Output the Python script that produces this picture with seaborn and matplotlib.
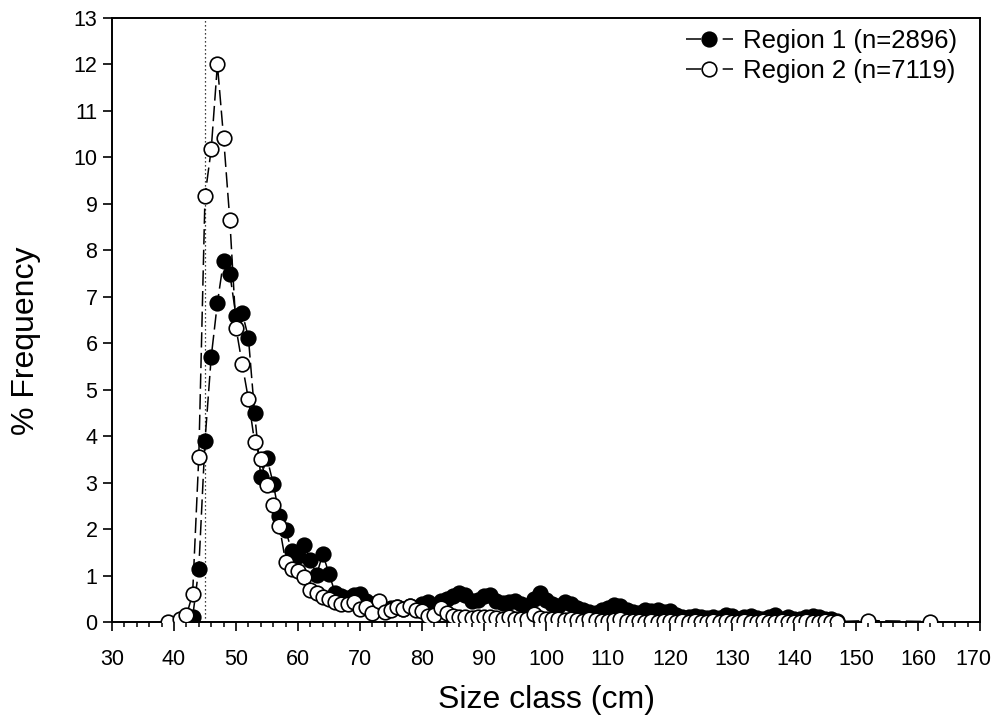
import matplotlib
matplotlib.use("Agg")
import matplotlib.pyplot as plt
import matplotlib.transforms as mtransforms
from matplotlib.lines import Line2D
from matplotlib.ticker import MultipleLocator
import seaborn as sns
import pandas as pd

# Size classes (cm) and % frequency, Region 1 (filled markers)
region1_size = list(range(43, 148))
region1_pct = [
    0.10, 1.15, 3.90, 5.70, 6.87, 7.78, 7.50, 6.58, 6.66, 6.12,   # 43-52
    4.50, 3.12, 3.53, 2.98, 2.29, 1.98, 1.52, 1.42, 1.66, 1.33,   # 53-62
    1.02, 1.46, 1.04, 0.62, 0.55, 0.52, 0.58, 0.60, 0.45, 0.38,   # 63-72
    0.28, 0.25, 0.30, 0.32, 0.28, 0.35, 0.30, 0.38, 0.42, 0.35,   # 73-82
    0.45, 0.50, 0.55, 0.62, 0.58, 0.45, 0.48, 0.55, 0.58, 0.45,   # 83-92
    0.40, 0.42, 0.45, 0.38, 0.35, 0.50, 0.62, 0.48, 0.38, 0.35,   # 93-102
    0.42, 0.38, 0.30, 0.25, 0.22, 0.20, 0.25, 0.30, 0.36, 0.35,   # 103-112
    0.25, 0.22, 0.20, 0.25, 0.24, 0.26, 0.22, 0.24, 0.15, 0.10,   # 113-122
    0.10, 0.12, 0.10, 0.08, 0.10, 0.08, 0.14, 0.12, 0.07, 0.10,   # 123-132
    0.12, 0.08, 0.07, 0.10, 0.14, 0.07, 0.10, 0.07, 0.07, 0.10,   # 133-142
    0.12, 0.10, 0.07, 0.07, 0.03,                                 # 143-147
]

# Size classes (cm) and % frequency, Region 2 (open markers)
region2_size = [39, 41, 42] + list(range(43, 148)) + [152, 162]
region2_pct = [
    0.01, 0.07, 0.14,                                             # 39-42
    0.60, 3.56, 9.17, 10.17, 12.00, 10.42, 8.66, 6.33, 5.55, 4.80,  # 43-52
    3.87, 3.50, 2.95, 2.52, 2.06, 1.30, 1.14, 1.10, 0.96, 0.68,   # 53-62
    0.62, 0.54, 0.50, 0.43, 0.38, 0.38, 0.42, 0.27, 0.33, 0.19,   # 63-72
    0.46, 0.21, 0.26, 0.32, 0.29, 0.35, 0.26, 0.24, 0.12, 0.15,   # 73-82
    0.30, 0.20, 0.12, 0.10, 0.10, 0.08, 0.10, 0.10, 0.10, 0.08,   # 83-92
    0.07, 0.10, 0.06, 0.07, 0.06, 0.17, 0.08, 0.06, 0.06, 0.07,   # 93-102
    0.04, 0.06, 0.04, 0.03, 0.06, 0.04, 0.03, 0.03, 0.04, 0.06,   # 103-112
    0.03, 0.03, 0.03, 0.01, 0.03, 0.01, 0.03, 0.03, 0.01, 0.03,   # 113-122
    0.01, 0.03, 0.01, 0.01, 0.03, 0.01, 0.03, 0.01, 0.01, 0.03,   # 123-132
    0.01, 0.01, 0.03, 0.01, 0.01, 0.03, 0.01, 0.01, 0.01, 0.03,   # 133-142
    0.01, 0.01, 0.03, 0.01, 0.01,                                 # 143-147
    0.03, 0.01,                                                   # 152, 162
]

region_labels = ["Region 1 (n=2896)", "Region 2 (n=7119)"]
legal_size = 45

df1 = pd.DataFrame({"size": region1_size, "pct": region1_pct})
df2 = pd.DataFrame({"size": region2_size, "pct": region2_pct})

sns.set_theme(style="ticks")
plt.rcParams["font.family"] = ["Liberation Sans", "DejaVu Sans"]
plt.rcParams.update({"text.color": "black", "axes.labelcolor": "black",
                     "xtick.color": "black", "ytick.color": "black"})

fig = plt.figure(figsize=(9.94, 7.2), dpi=100)
ax = fig.add_axes([112 / 994, 1 - 622 / 720, 868 / 994, 604 / 720])

dash = (0, (10, 3.5))
marker_style = dict(marker="o", markersize=10.5, markeredgecolor="black",
                    markeredgewidth=1.2)
common = dict(color="black", linewidth=1.1, linestyle=dash, sort=True,
              estimator=None, ax=ax, **marker_style)

sns.lineplot(data=df1, x="size", y="pct", markerfacecolor="black",
             zorder=3, **common)
sns.lineplot(data=df2, x="size", y="pct", markerfacecolor="white",
             zorder=4, **common)

ax.axvline(legal_size, color="black", linestyle=(0, (1, 2.2)), linewidth=0.9, zorder=2)

ax.set_xlim(30, 170)
ax.set_ylim(0, 13)
ax.xaxis.set_major_locator(MultipleLocator(10))
ax.xaxis.set_minor_locator(MultipleLocator(2))
ax.yaxis.set_major_locator(MultipleLocator(1))

for side in ["top", "right", "left", "bottom"]:
    ax.spines[side].set_visible(True)
    ax.spines[side].set_color("black")
    ax.spines[side].set_linewidth(1.4)

ax.tick_params(axis="both", which="major", direction="out", length=6.5,
               width=1.2, color="black", labelsize=15.5)
ax.tick_params(axis="x", which="major", pad=13)
ax.tick_params(axis="y", which="major", pad=4)
ax.tick_params(axis="x", which="minor", direction="out", length=3.5,
               width=1.1, color="black")
ax.grid(False)

ax.set_xlabel("Size class (cm)", fontsize=23, labelpad=11)
ax.set_ylabel("% Frequency", fontsize=23, labelpad=24)
ax.yaxis.set_label_coords(-0.082, 0.465)

# Legend keys: a dash on each side of the marker
legend_dash = (0, (10, 14))
handles = [
    Line2D([], [], color="black", linewidth=1.1, linestyle=legend_dash,
           markerfacecolor="black", **marker_style),
    Line2D([], [], color="black", linewidth=1.1, linestyle=legend_dash,
           markerfacecolor="white", **marker_style),
]
ax.legend(handles, region_labels, loc="upper right",
          bbox_to_anchor=(0.986, 0.998), frameon=False, fontsize=18.5,
          handlelength=1.85, handletextpad=0.4, labelspacing=0.22,
          borderaxespad=0.0)

# Nudge the last x tick label inward so it stays on the canvas
fig.canvas.draw()
last_tick = ax.xaxis.get_major_ticks()[-1]
for tick in ax.xaxis.get_major_ticks():
    if abs(tick.get_loc() - 170) < 1e-6:
        last_tick = tick
last_tick.label1.set_transform(
    last_tick.label1.get_transform()
    + mtransforms.ScaledTranslation(-7 / 100, 0, fig.dpi_scale_trans))

fig.savefig("out.png", dpi=100)
